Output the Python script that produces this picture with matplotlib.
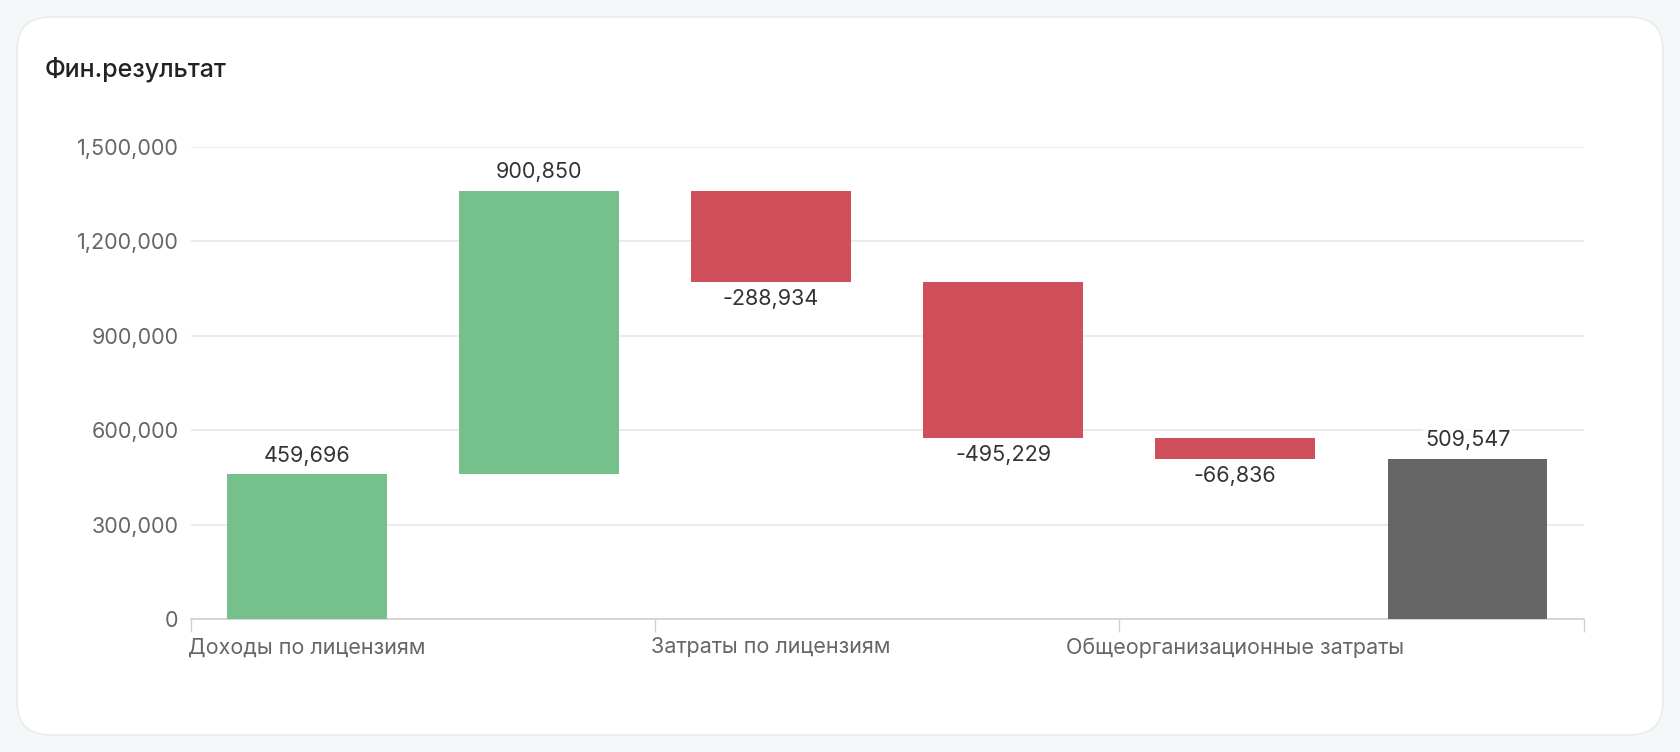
import matplotlib
matplotlib.use("Agg")
import matplotlib.pyplot as plt
from matplotlib.patches import FancyBboxPatch
from matplotlib.ticker import FuncFormatter

plt.rcParams['font.family'] = ['Inter', 'DejaVu Sans']

title = "Фин.результат"
steps = ["Доходы по лицензиям", "", "Затраты по лицензиям", "", "Общеорганизационные затраты", ""]
changes = [459696, 900850, -288934, -495229, -66836]
total = 509547
y_ticks = [0, 300000, 600000, 900000, 1200000, 1500000]

GREEN = "#76c08c"
RED = "#cf4f5a"
GRAY = "#666666"

fig = plt.figure(figsize=(16.8, 7.52), dpi=100)
fig.patch.set_facecolor("#f4f7f8")

card = FancyBboxPatch((17 / 1680, 17 / 752), (1663 - 17) / 1680, (735 - 17) / 752,
                      boxstyle="round,pad=0,rounding_size=0.02",
                      transform=fig.transFigure, facecolor="white",
                      edgecolor="#e8ecee", linewidth=1.2, zorder=-5,
                      mutation_aspect=1680 / 752)
fig.add_artist(card)

fig.text(45 / 1680, 1 - 69 / 752, title, fontsize=18, fontweight="medium",
         color="#222222", va="center", ha="left")

ax = fig.add_axes([0.1135, 0.1765, 0.9426 - 0.1135, 0.8048 - 0.1765])
ax.set_facecolor("none")

bottoms, heights, colors, labels = [], [], [], []
running = 0
for c in changes:
    if c >= 0:
        bottoms.append(running)
        heights.append(c)
        colors.append(GREEN)
    else:
        bottoms.append(running + c)
        heights.append(-c)
        colors.append(RED)
    labels.append(c)
    running += c
bottoms.append(0)
heights.append(total)
colors.append(GRAY)
labels.append(total)

xs = list(range(len(heights)))
ax.bar(xs, heights, bottom=bottoms, width=0.688, color=colors, zorder=3)

for x, b, h, v in zip(xs, bottoms, heights, labels):
    if v >= 0:
        ax.annotate(f"{v:,}", (x, b + h), xytext=(0, 6), textcoords="offset points",
                    ha="center", va="bottom", fontsize=15.5, color="#333333", zorder=5,
                    bbox=dict(boxstyle="square,pad=0.1", facecolor="white", edgecolor="none", alpha=0.8))
    else:
        ax.annotate(f"{v:,}", (x, b), xytext=(0, -5), textcoords="offset points",
                    ha="center", va="top", fontsize=15.5, color="#333333", zorder=5,
                    bbox=dict(boxstyle="square,pad=0.1", facecolor="white", edgecolor="none", alpha=0.8))

ax.set_xlim(-0.5, len(heights) - 0.5)
ax.set_ylim(0, 1500000)
ax.set_yticks(y_ticks)
ax.yaxis.set_major_formatter(FuncFormatter(lambda v, p: f"{int(v):,}"))
ax.grid(axis="y", color="#e6e6e6", linewidth=1.2, zorder=0)
ax.set_axisbelow(True)

ax.set_xticks([-0.5, 1.5, 3.5, 5.5])
ax.set_xticklabels([])
ax.tick_params(axis="x", length=9, width=1, color="#d0d0d0")
ax.tick_params(axis="y", length=0, pad=8.8, labelsize=15.5, labelcolor="#666666")

for x, lab in zip(xs, steps):
    if lab:
        ax.annotate(lab, (x, 0), xytext=(0, -13), textcoords="offset points",
                    ha="center", va="top", fontsize=15.5, color="#666666",
                    annotation_clip=False)

for s in ["top", "right", "left"]:
    ax.spines[s].set_visible(False)
ax.spines["bottom"].set_color("#d0d0d0")
ax.spines["bottom"].set_linewidth(1.2)

fig.savefig("out.png", dpi=100, facecolor=fig.get_facecolor())
